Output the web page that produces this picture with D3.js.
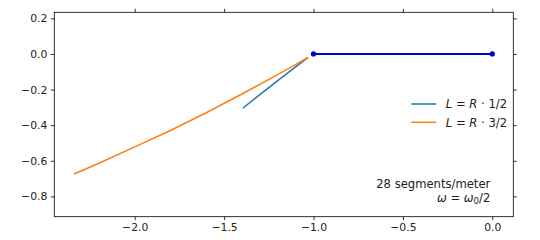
<!DOCTYPE html>
<html>
<head>
<meta charset="utf-8">
<script src="https://cdn.jsdelivr.net/npm/d3@7"></script>
<style>
    body { margin: 0; background: #fff; }
    text { font-family: "DejaVu Sans", sans-serif; }
</style>
</head>
<body>
<script>
// Values
var xTicks = [-2.0, -1.5, -1.0, -0.5, 0.0];
var yTicks = [0.2, 0.0, -0.2, -0.4, -0.6, -0.8];

// L = R * 1/2 (tab blue)
var halfX = [-1.396, -1.3, -1.2, -1.1, -1.03];
var halfY = [-0.305, -0.228, -0.150, -0.073, -0.019];

// L = R * 3/2 (tab orange)
var threeHalfX = [-2.339, -2.2, -2.0, -1.8, -1.6, -1.4, -1.2, -1.03];
var threeHalfY = [-0.674, -0.614, -0.522, -0.430, -0.330, -0.225, -0.116, -0.019];

// straight segment with end dots
var segX = [-1.0, 0.0];
var segY = [0.0, 0.0];

var legendLabels = ["1/2", "3/2"];
var legendColors = ["#1f77b4", "#ff7f0e"];

var margin = {top: 12.3, right: 26.7, bottom: 23.3, left: 54.3},
    width = 540 - margin.left - margin.right,
    height = 240 - margin.top - margin.bottom;

var svg = d3.select("body").append("svg")
    .attr("width", 540)
    .attr("height", 240)
    .append("g")
    .attr("transform", "translate(" + margin.left + "," + margin.top + ")");

var xScale = d3.scaleLinear().domain([-2.4497, 0.1175]).range([0, width]);
var yScale = d3.scaleLinear().domain([-0.914, 0.234]).range([height, 0]);

var fmt = function(d) { return d3.format(".1f")(d).replace("-", "\u2212"); };

// axes on all four sides, labels only bottom and left
function styleAxis(g) {
    g.select(".domain").remove();
    g.selectAll(".tick line").attr("stroke", "#000").attr("stroke-width", 0.8);
    g.selectAll(".tick text")
        .attr("font-family", "DejaVu Sans")
        .attr("font-size", "10.8px")
        .attr("fill", "#222");
}

svg.append("g")
    .attr("transform", "translate(0," + height + ")")
    .call(d3.axisBottom(xScale).tickValues(xTicks).tickFormat(fmt)
        .tickSize(3.5).tickPadding(3.5))
    .call(styleAxis);

svg.append("g")
    .call(d3.axisTop(xScale).tickValues(xTicks).tickFormat("")
        .tickSize(3.5))
    .call(styleAxis);

svg.append("g")
    .call(d3.axisLeft(yScale).tickValues(yTicks).tickFormat(fmt)
        .tickSize(3.5).tickPadding(3.5))
    .call(styleAxis);

svg.append("g")
    .attr("transform", "translate(" + width + ",0)")
    .call(d3.axisRight(yScale).tickValues(yTicks).tickFormat("")
        .tickSize(3.5))
    .call(styleAxis);

// frame
svg.append("rect")
    .attr("width", width)
    .attr("height", height)
    .attr("fill", "none")
    .attr("stroke", "#000")
    .attr("stroke-width", 0.8);

var line = d3.line()
    .x(function(d) { return xScale(d[0]); })
    .y(function(d) { return yScale(d[1]); });

function pairs(xs, ys) {
    return xs.map(function(x, i) { return [x, ys[i]]; });
}

svg.append("path")
    .datum(pairs(halfX, halfY))
    .attr("d", line)
    .attr("fill", "none")
    .attr("stroke", legendColors[0])
    .attr("stroke-width", 1.5);

svg.append("path")
    .datum(pairs(threeHalfX, threeHalfY))
    .attr("d", line)
    .attr("fill", "none")
    .attr("stroke", legendColors[1])
    .attr("stroke-width", 1.5);

svg.append("path")
    .datum(pairs(segX, segY))
    .attr("d", line)
    .attr("fill", "none")
    .attr("stroke", "#0000cd")
    .attr("stroke-width", 2);

svg.selectAll("circle.dot")
    .data(pairs(segX, segY))
    .enter()
    .append("circle")
    .attr("class", "dot")
    .attr("cx", function(d) { return xScale(d[0]); })
    .attr("cy", function(d) { return yScale(d[1]); })
    .attr("r", 2.6)
    .attr("fill", "#0000cd");

// legend, no frame
var legend = svg.selectAll("g.legend")
    .data(legendLabels)
    .enter()
    .append("g")
    .attr("class", "legend")
    .attr("transform", function(d, i) {
        return "translate(357," + (91.7 + i * 18.3) + ")";
    });

legend.append("line")
    .attr("x1", 0)
    .attr("x2", 25)
    .attr("stroke", function(d, i) { return legendColors[i]; })
    .attr("stroke-width", 1.5);

var lt = legend.append("text")
    .attr("x", 34.5)
    .attr("y", 4.2)
    .attr("font-size", "11.6px")
    .attr("fill", "#222");
lt.append("tspan").attr("font-style", "italic").text("L");
lt.append("tspan").text(" = ");
lt.append("tspan").attr("font-style", "italic").text("R");
lt.append("tspan").text(" \u00b7 ");
lt.append("tspan").text(function(d) { return d; });

// annotation in the lower right
svg.append("text")
    .attr("x", 436)
    .attr("y", 175.5)
    .attr("text-anchor", "end")
    .attr("font-size", "11.6px")
    .attr("fill", "#222")
    .text("28 segments/meter");

var om = svg.append("text")
    .attr("x", 436)
    .attr("y", 190)
    .attr("text-anchor", "end")
    .attr("font-size", "11.6px")
    .attr("fill", "#222");
om.append("tspan").attr("font-style", "italic").text("\u03c9");
om.append("tspan").text(" = ");
om.append("tspan").attr("font-style", "italic").text("\u03c9");
om.append("tspan").attr("font-size", "8.5px").attr("dy", 2).text("0");
om.append("tspan").attr("dy", -2).text("/2");
</script>
</body>
</html>
